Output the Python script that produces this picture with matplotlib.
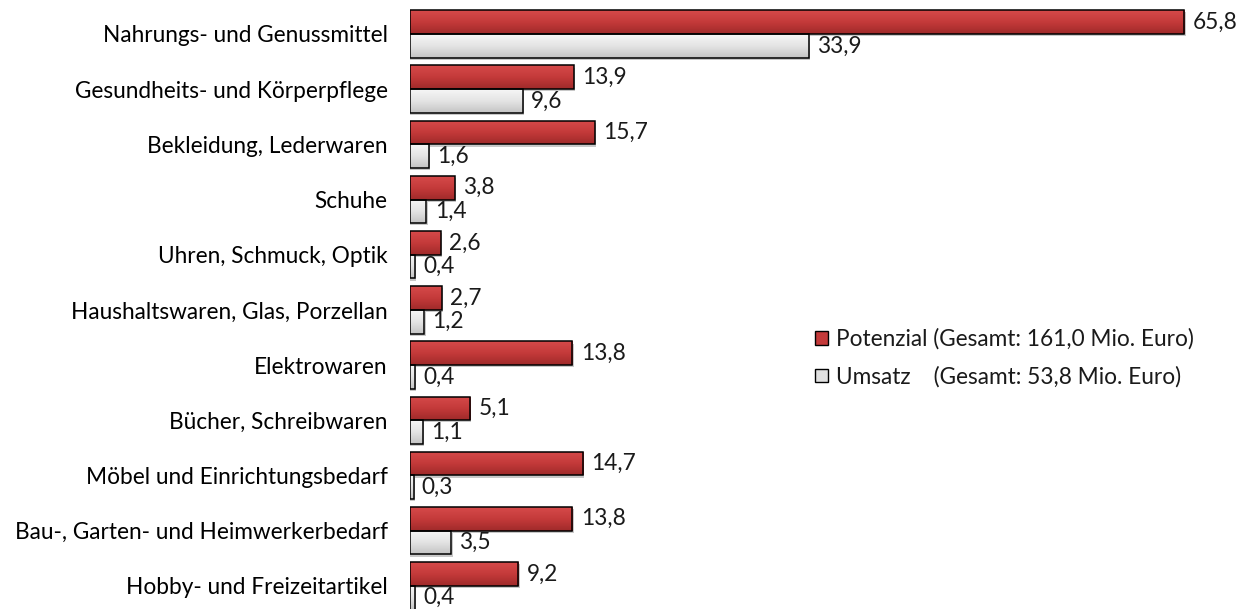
import matplotlib
matplotlib.use("Agg")
import matplotlib.pyplot as plt
import numpy as np
from matplotlib.patches import Patch
from matplotlib.colors import LinearSegmentedColormap

categories = [
    "Nahrungs- und Genussmittel",
    "Gesundheits- und Körperpflege",
    "Bekleidung, Lederwaren",
    "Schuhe",
    "Uhren, Schmuck, Optik",
    "Haushaltswaren, Glas, Porzellan",
    "Elektrowaren",
    "Bücher, Schreibwaren",
    "Möbel und Einrichtungsbedarf",
    "Bau-, Garten- und Heimwerkerbedarf",
    "Hobby- und Freizeitartikel",
]
potenzial = [65.8, 13.9, 15.7, 3.8, 2.6, 2.7, 13.8, 5.1, 14.7, 13.8, 9.2]
umsatz = [33.9, 9.6, 1.6, 1.4, 0.4, 1.2, 0.4, 1.1, 0.3, 3.5, 0.4]
legend_labels = ["Potenzial (Gesamt: 161,0 Mio. Euro)",
                 "Umsatz    (Gesamt: 53,8 Mio. Euro)"]

plt.rcParams['font.family'] = ['Lato', 'DejaVu Sans']
plt.rcParams['font.size'] = 16.3
plt.rcParams['text.color'] = '#1a1a1a'

red_cmap = LinearSegmentedColormap.from_list("r", ["#d64a4a", "#c43a3a", "#a02a2a"])
gray_cmap = LinearSegmentedColormap.from_list("g", ["#f6f6f6", "#e4e4e4", "#c4c4c4"])

fig = plt.figure(figsize=(12.46, 6.09), dpi=100)
ax = fig.add_axes([410 / 1246, 0, 836 / 1246, 1])

y = np.arange(len(categories))
h = 0.43
grad = np.linspace(0, 1, 64).reshape(-1, 1)


def draw_bars(offset, vals, cmap):
    # schatten
    ax.barh(y + offset + 0.04, np.array(vals) + 0.12, height=h, color="#c8c8c8",
            linewidth=0, zorder=1)
    bars = ax.barh(y + offset, vals, height=h, color="none", edgecolor="black",
                   linewidth=1.1, zorder=3)
    for b in bars:
        x0, y0 = b.get_x(), b.get_y()
        im = ax.imshow(grad, cmap=cmap, aspect="auto", origin="upper",
                       extent=[x0, x0 + b.get_width(), y0 + h, y0], zorder=2)
        im.set_clip_path(b)
    return bars


draw_bars(-h / 2, potenzial, red_cmap)
draw_bars(h / 2, umsatz, gray_cmap)

for i in range(len(categories)):
    ax.text(potenzial[i] + 0.7, y[i] - h / 2, f"{potenzial[i]:.1f}".replace(".", ","),
            va="center", ha="left")
    ax.text(umsatz[i] + 0.7, y[i] + h / 2, f"{umsatz[i]:.1f}".replace(".", ","),
            va="center", ha="left")

ax.set_xlim(0, 836 / 11.77)
ax.set_ylim(10.42, -0.616)
ax.set_yticks(y)
ax.set_yticklabels(categories)
ax.tick_params(axis="y", length=0, pad=16)
ax.set_xticks([])
for s in ["top", "right", "bottom", "left"]:
    ax.spines[s].set_visible(False)

handles = [Patch(facecolor="#c43a3a", edgecolor="black"),
           Patch(facecolor="#e0e0e0", edgecolor="black")]
fig.legend(handles, legend_labels, loc="center left", bbox_to_anchor=(795 / 1246, 1 - 358 / 609),
           frameon=False, handlelength=0.55, handleheight=0.55, handletextpad=0.35,
           labelspacing=0.7)

fig.savefig("out.png", dpi=100)
